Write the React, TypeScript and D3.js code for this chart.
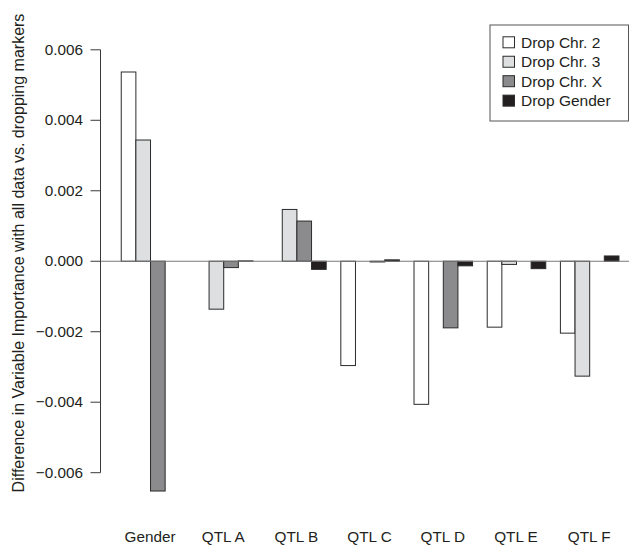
import React from "react";
import * as d3 from "d3";

// Differences in variable importance per predictor, one series per dropped marker set
const categories = ["Gender", "QTL A", "QTL B", "QTL C", "QTL D", "QTL E", "QTL F"];
const seriesNames = ["Drop Chr. 2", "Drop Chr. 3", "Drop Chr. X", "Drop Gender"];
const dropChr2 = [0.00537, 0, 0, -0.00296, -0.00406, -0.00187, -0.00204];
const dropChr3 = [0.00344, -0.00136, 0.00147, 0, 0, -0.00009, -0.00326];
const dropChrX = [-0.00652, -0.00018, 0.00114, -0.00002, -0.00189, 0, 0];
const dropGender = [0, 0.00001, -0.00023, 0.00004, -0.00013, -0.00021, 0.00015];
const yTicks = [-0.006, -0.004, -0.002, 0, 0.002, 0.004, 0.006];

const seriesValues = [dropChr2, dropChr3, dropChrX, dropGender];
const fills = ["#ffffff", "#dedfe0", "#8b8b8d", "#231f20"];

const W = 629;
const H = 547;
const FONT = "'Liberation Sans', Arial, Helvetica, sans-serif";
const FS = 15.3;
const TEXT = "#231f20";

export default function App() {
  const y = d3.scaleLinear().domain([-0.006, 0.006]).range([472.7, 49.8]);
  const x0 = d3
    .scaleBand<string>()
    .domain(categories)
    .range([106.1, 633.1])
    .paddingInner(0.2)
    .paddingOuter(0.2);
  const x1 = d3
    .scaleBand<string>()
    .domain(seriesNames)
    .range([0, x0.bandwidth()]);

  const axisX = 100.5;
  const fmt = (v: number) => (v < 0 ? "\u2212" : "") + Math.abs(v).toFixed(3);

  return (
    <svg
      width={W}
      height={H}
      style={{ position: "absolute", left: 0, top: 0, background: "#fff" }}
      fontFamily={FONT}
    >
      {/* bars */}
      {categories.map((c, ci) => (
        <g key={c} transform={`translate(${x0(c)},0)`}>
          {seriesNames.map((s, si) => {
            const v = seriesValues[si][ci];
            const top = y(Math.max(0, v));
            const bot = y(Math.min(0, v));
            return (
              <rect
                key={s}
                x={x1(s)! + 0.5}
                y={top}
                width={x1.bandwidth()}
                height={Math.max(0, bot - top)}
                fill={fills[si]}
                stroke="#2b2b2b"
                strokeWidth={1}
              />
            );
          })}
        </g>
      ))}

      {/* zero reference line */}
      <line x1={axisX} x2={W} y1={y(0)} y2={y(0)} stroke="#7a7a7a" strokeWidth={1} />

      {/* y axis */}
      <line x1={axisX} x2={axisX} y1={y(0.006)} y2={y(-0.006)} stroke="#3a3a3a" strokeWidth={1} />
      {yTicks.map((t) => (
        <g key={t}>
          <line x1={axisX - 10} x2={axisX} y1={y(t)} y2={y(t)} stroke="#3a3a3a" strokeWidth={1} />
          <text
            x={83}
            y={y(t)}
            dy="0.34em"
            textAnchor="end"
            fontSize={FS}
            fill={TEXT}
          >
            {fmt(t)}
          </text>
        </g>
      ))}

      {/* y axis title */}
      <text
        transform={`translate(24,253) rotate(-90)`}
        textAnchor="middle"
        fontSize={16}
        fill={TEXT}
      >
        Difference in Variable Importance with all data vs. dropping markers
      </text>

      {/* category labels */}
      {categories.map((c) => (
        <text
          key={c}
          x={x0(c)! + x0.bandwidth() / 2}
          y={541.5}
          textAnchor="middle"
          fontSize={FS}
          fill={TEXT}
        >
          {c}
        </text>
      ))}

      {/* legend */}
      <g>
        <rect x={490} y={25} width={138.5} height={96} fill="#fff" stroke="#555" strokeWidth={1} />
        {seriesNames.map((s, i) => {
          const cy = 42.3 + i * 19.45;
          return (
            <g key={s}>
              <rect x={503} y={cy - 5.5} width={11.5} height={11} fill={fills[i]} stroke="#2b2b2b" strokeWidth={1} />
              <text x={521} y={cy} dy="0.36em" fontSize={15.5} fill={TEXT}>
                {s}
              </text>
            </g>
          );
        })}
      </g>
    </svg>
  );
}
